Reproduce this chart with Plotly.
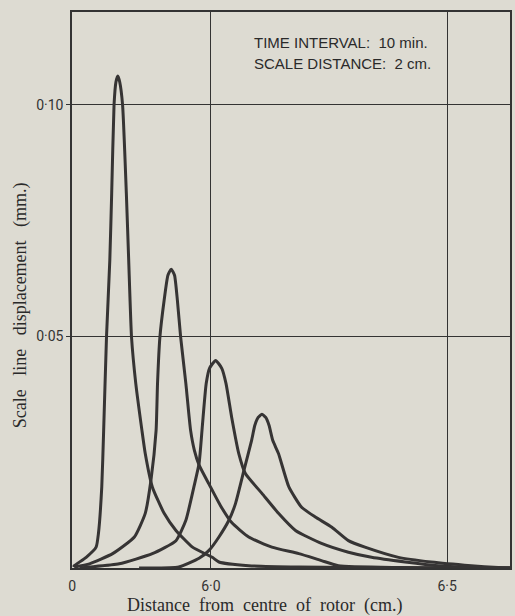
import plotly.graph_objects as go

# ---- data ----
x1 = [5.709, 5.711, 5.736, 5.757, 5.762, 5.769, 5.773, 5.779, 5.786, 5.790, 5.795, 5.799,
      5.803, 5.807, 5.813, 5.821, 5.826, 5.832, 5.841, 5.854, 5.861, 5.876, 5.901, 5.926,
      5.961, 6.003, 6.017, 6.080, 6.186, 6.291, 6.502, 6.633]
y1 = [0.0002, 0.0005, 0.0023, 0.0045, 0.0075, 0.0175, 0.0297, 0.0498, 0.0664, 0.0809, 0.1000, 0.1049,
      0.1062, 0.1049, 0.1000, 0.0809, 0.0664, 0.0498, 0.0398, 0.0297, 0.0247, 0.0175, 0.0118, 0.0081,
      0.0045, 0.0023, 0.0013, 0.0005, 0.0002, 0.0001, 0.0, 0.0]

x2 = [5.711, 5.743, 5.792, 5.838, 5.861, 5.873, 5.884, 5.887, 5.892, 5.901, 5.909, 5.916,
      5.923, 5.929, 5.936, 5.947, 5.957, 5.965, 5.975, 5.996, 6.020, 6.044, 6.080, 6.129,
      6.186, 6.234, 6.270, 6.397, 6.502, 6.633]
y2 = [0.0002, 0.0009, 0.0031, 0.0067, 0.0118, 0.0189, 0.0297, 0.0398, 0.0498, 0.0578, 0.0632, 0.0645,
      0.0632, 0.0578, 0.0498, 0.0398, 0.0297, 0.0254, 0.0222, 0.0181, 0.0135, 0.0098, 0.0067, 0.0045,
      0.0031, 0.0016, 0.0005, 0.0001, 0.0, 0.0]

x3 = [5.722, 5.743, 5.806, 5.876, 5.926, 5.947, 5.964, 5.975, 5.982, 5.990, 5.997, 6.010,
      6.023, 6.032, 6.044, 6.059, 6.073, 6.108, 6.143, 6.179, 6.234, 6.291, 6.340, 6.411,
      6.481, 6.565, 6.633]
y3 = [0.0, 0.0002, 0.0009, 0.0031, 0.0059, 0.0103, 0.0175, 0.0226, 0.0308, 0.0398, 0.0431, 0.0448,
      0.0431, 0.0398, 0.0325, 0.0247, 0.0204, 0.0161, 0.0118, 0.0081, 0.0053, 0.0034, 0.0023, 0.0013,
      0.0005, 0.0001, 0.0]

x4 = [5.848, 5.932, 5.975, 5.996, 6.017, 6.038, 6.052, 6.070, 6.086, 6.093, 6.100, 6.108,
      6.116, 6.123, 6.131, 6.143, 6.165, 6.192, 6.221, 6.256, 6.291, 6.326, 6.397, 6.466,
      6.551, 6.608, 6.633]
y4 = [0.0, 0.0002, 0.0021, 0.0038, 0.0067, 0.0103, 0.0139, 0.0211, 0.0275, 0.0308, 0.0325, 0.0332,
      0.0325, 0.0308, 0.0275, 0.0247, 0.0175, 0.0131, 0.0110, 0.0088, 0.0059, 0.0045, 0.0023, 0.0013,
      0.0005, 0.0001, 0.0]

x_tick_vals = [5.7065, 6.0, 6.5]
x_tick_text = ["0", "6·0", "6·5"]
y_tick_vals = [0.05, 0.10]
y_tick_text = ["0·05", "0·10"]
x_range = [5.706, 6.633]
y_range = [0, 0.12]

note_lines = ["TIME INTERVAL:  10 min.", "SCALE DISTANCE:  2 cm."]
x_title = "Distance  from  centre  of  rotor  (cm.)"
y_title = "Scale   line   displacement   (mm.)"

# ---- style ----
paper = "#dddbd2"
ink = "#333333"
curve_col = "#363434"

fig = go.Figure()
for xs, ys in [(x1, y1), (x2, y2), (x3, y3), (x4, y4)]:
    fig.add_trace(go.Scatter(x=xs, y=ys, mode="lines",
                             line=dict(color=curve_col, width=3, shape="spline", smoothing=0.5),
                             showlegend=False, hoverinfo="skip"))

tick_font = dict(family="Liberation Sans Narrow, Roboto, sans-serif", size=14, color=ink)

fig.update_layout(
    width=515, height=616,
    margin=dict(l=72, r=3, t=12, b=48),
    paper_bgcolor=paper, plot_bgcolor=paper,
    xaxis=dict(range=x_range, tickvals=x_tick_vals, ticktext=x_tick_text,
               showgrid=True, gridcolor=ink, gridwidth=1, zeroline=False,
               showline=True, linecolor=ink, linewidth=1.5, mirror=True,
               ticks="", tickfont=tick_font, ticklabelstandoff=4),
    yaxis=dict(range=y_range, tickvals=y_tick_vals, ticktext=y_tick_text,
               showgrid=True, gridcolor=ink, gridwidth=1, zeroline=False,
               showline=True, linecolor=ink, linewidth=1.5, mirror=True,
               ticks="outside", ticklen=4, tickcolor=ink, tickfont=tick_font),
)

note_font = dict(family="Liberation Sans, Arial, sans-serif", size=15, color="#2a2a2a")
fig.add_annotation(text=note_lines[0], xref="paper", yref="paper", x=0.41, y=0.946,
                   xanchor="left", yanchor="middle", showarrow=False, font=note_font)
fig.add_annotation(text=note_lines[1], xref="paper", yref="paper", x=0.41, y=0.908,
                   xanchor="left", yanchor="middle", showarrow=False, font=note_font)

title_font = dict(family="Liberation Serif, DejaVu Serif, serif", size=18, color="#2a2a2a")
fig.add_annotation(text=x_title.replace(" ", "\u00a0"), xref="paper", yref="paper", x=0.44, y=-0.068,
                   xanchor="center", yanchor="middle", showarrow=False, font=title_font)
fig.add_annotation(text=y_title.replace(" ", "\u00a0"), xref="paper", yref="paper", x=-0.118, y=0.473,
                   xanchor="center", yanchor="middle", textangle=-90, showarrow=False,
                   font=title_font)

fig.write_html("out.html", config={"displayModeBar": False},
               post_script="document.body.style.margin='0';document.documentElement.style.overflow='hidden';")
